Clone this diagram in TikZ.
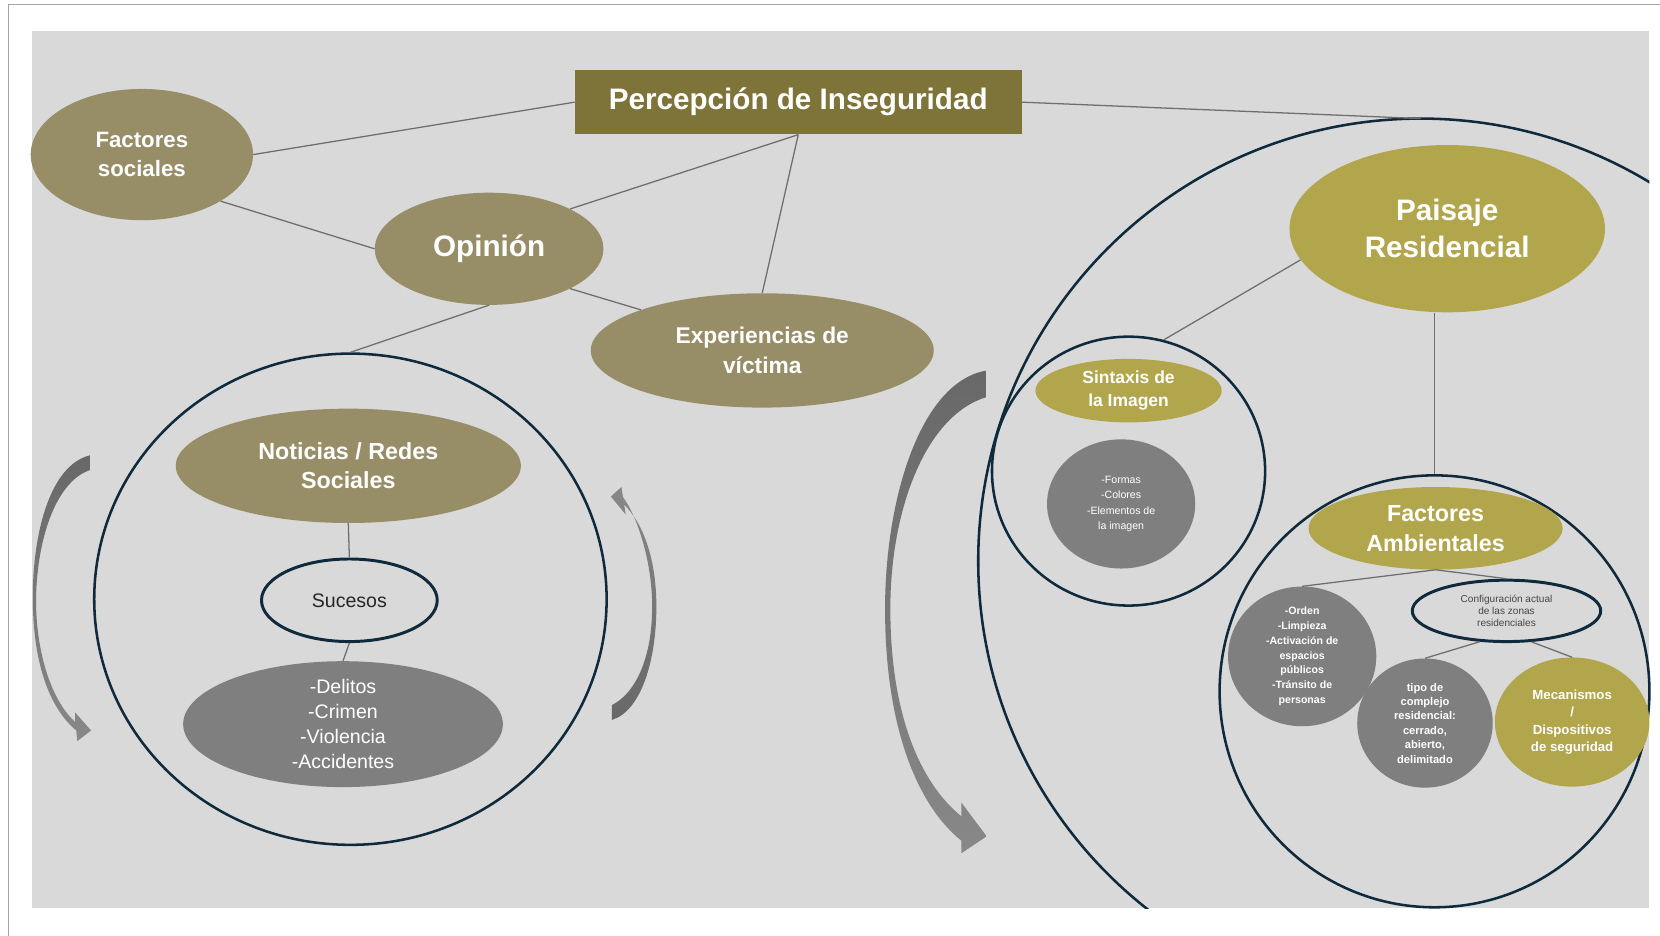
\documentclass[tikz,border=0pt]{standalone}
\usepackage{fontspec}
\setmainfont{Liberation Sans}
\usetikzlibrary{shapes.geometric}
\definecolor{bgc}{RGB}{217,217,217}
\definecolor{titlec}{RGB}{126,116,57}
\definecolor{khaki}{RGB}{151,141,102}
\definecolor{mustard}{RGB}{178,166,76}
\definecolor{grayf}{RGB}{127,127,127}
\definecolor{navy}{RGB}{14,42,60}
\definecolor{linkc}{RGB}{110,110,110}
\definecolor{framec}{RGB}{165,165,165}
\definecolor{arrowA}{RGB}{104,104,104}
\definecolor{arrowB}{RGB}{136,136,136}
\definecolor{darktext}{RGB}{38,38,38}
\newcommand\fsz[2]{\fontsize{#1}{#2}\selectfont}
\tikzset{
 ell/.style={ellipse, inner sep=0pt, align=center, text=white},
 khakinode/.style={ell, fill=khaki},
 mustnode/.style={ell, fill=mustard},
 graynode/.style={ell, fill=grayf},
 ringnode/.style={ell, draw=navy, line width=2.4pt, text=darktext},
 link/.style={draw=linkc, line width=1.2pt},
 darkarrow/.style={top color=arrowA, bottom color=arrowB, draw=none},
 lightarrow/.style={top color=arrowB, bottom color=arrowA, draw=none},
}
\begin{document}
\begin{tikzpicture}[x=1pt,y=-1pt]
\useasboundingbox (0,0) rectangle (1568,884);
\fill[white] (0,0) rectangle (1568,884);
\draw[framec, line width=1pt] (8,884) -- (8,4) -- (1568,4);
\fill[bgc] (30,29) rectangle (1558,858);

% big right circle (clipped)
\begin{scope}
\clip (30,29) rectangle (1558,858);
\draw[navy, line width=2.4pt] (1342,530) circle[radius=418pt];
\end{scope}
\coordinate (bigtop) at (1342,112);

% curved arrows
\path[darkarrow] (85,430) .. controls (45,440) and (30,510) .. (31,570)
  .. controls (32,630) and (48,670) .. (72,690) -- (73,700) -- (86,690) -- (71,673) -- (71,682)
  .. controls (52,665) and (35,625) .. (34,570) .. controls (34,512) and (52,455) .. (85,444) -- cycle;
\path[lightarrow] (578,680) .. controls (605,672) and (620,625) .. (620,573)
  .. controls (620,525) and (606,493) .. (589.6,476.6) -- (591,486) -- (577,469) -- (587,460) -- (588.4,469.4)
  .. controls (602,488) and (616,530) .. (616,573) .. controls (616,622) and (600,655) .. (578,666) -- cycle;
\path[darkarrow] (932,350) .. controls (870,360) and (836,470) .. (836,575)
  .. controls (836,690) and (868,762) .. (908,794) -- (908,806) -- (932,790) -- (908,758) -- (908,771)
  .. controls (872,742) and (841,680) .. (841,575) .. controls (841,480) and (875,392) .. (932,375) -- cycle;

% left part
\node[fill=titlec, minimum width=422, minimum height=61, inner sep=0pt, text=white,
      font=\fsz{28}{32}\bfseries] (ti) at (754,96.5) {Percepción de Inseguridad};
\node[khakinode, minimum width=210, minimum height=124, font=\fsz{21}{28}\bfseries] (fs) at (134,146) {Factores\\sociales};
\node[khakinode, minimum width=216, minimum height=106, font=\fsz{28}{32}\bfseries] (op) at (462,235) {Opinión};
\node[khakinode, minimum width=324, minimum height=108, font=\fsz{21.5}{28}\bfseries] (ex) at (720,331) {Experiencias de\\víctima};
\node[ringnode, minimum width=484, minimum height=464] (lc) at (331,566) {};
\node[khakinode, minimum width=326, minimum height=108, font=\fsz{22}{28}\bfseries] (no) at (329,440) {Noticias / Redes\\Sociales};
\node[ringnode, line width=2.8pt, minimum width=166, minimum height=78, font=\fsz{18.5}{22}] (su) at (330,567) {Sucesos};
\node[graynode, minimum width=302, minimum height=112, font=\fsz{18.5}{23.5}] (del) at (324,684) {-Delitos\\-Crimen\\-Violencia\\-Accidentes};

% right part
\node[mustnode, minimum width=298, minimum height=158, font=\fsz{28}{35}\bfseries] (pa) at (1367,216) {Paisaje\\Residencial};
\node[ringnode, minimum width=258, minimum height=254] (sc) at (1066,445) {};
\node[mustnode, minimum width=176, minimum height=60, font=\fsz{16.5}{22}\bfseries] (si) at (1066,369) {Sintaxis de\\la Imagen};
\node[graynode, minimum width=140, minimum height=122, font=\fsz{10}{14.5}] (fo) at (1059,476) {-Formas\\-Colores\\-Elementos de\\la imagen};
\node[ringnode, minimum width=406, minimum height=408] (fac) at (1355,653) {};
\node[mustnode, minimum width=240, minimum height=78, font=\fsz{22}{28}\bfseries] (fa) at (1356,499) {Factores\\Ambientales};
\node[ringnode, line width=2.8pt, minimum width=178, minimum height=58, font=\fsz{9.5}{11.5}, text=darktext!85] (cf) at (1423,577) {Configuración actual\\de las zonas\\residenciales};
\node[graynode, minimum width=140, minimum height=120, font=\fsz{10}{14}\bfseries] (ord) at (1230,620) {-Orden\\-Limpieza\\-Activación de\\espacios\\públicos\\-Tránsito de\\personas};
\node[graynode, minimum width=128, minimum height=122, font=\fsz{10.5}{13.6}\bfseries] (tipo) at (1346,683) {tipo de\\complejo\\residencial:\\cerrado,\\abierto,\\delimitado};
\node[mustnode, minimum width=146, minimum height=122, font=\fsz{12.5}{16.5}\bfseries] (me) at (1485,682) {Mecanismos\\/\\Dispositivos\\de seguridad};

% connectors
\draw[link] (ti.west) -- (fs.east);
\draw[link] (fs.south east) -- (op.west);
\draw[link] (op.north east) -- (ti.south);
\draw[link] (ti.south) -- (ex.north);
\draw[link] (op.south east) -- (ex.north west);
\draw[link] (op.south) -- (lc.north);
\draw[link] (no.south) -- (su.north);
\draw[link] (su.south) -- (del.north);
\draw[link] (ti.east) -- (bigtop);
\draw[link] (pa.192) -- (sc.75);
\draw[link] (fac.north |- pa.south) -- (fac.north);
\draw[link] (fa.south) -- (ord.north);
\draw[link] (fa.south) -- (cf.north);
\draw[link] (cf.229) -- (tipo.north);
\draw[link] (cf.309) -- (me.north);
\end{tikzpicture}
\end{document}
